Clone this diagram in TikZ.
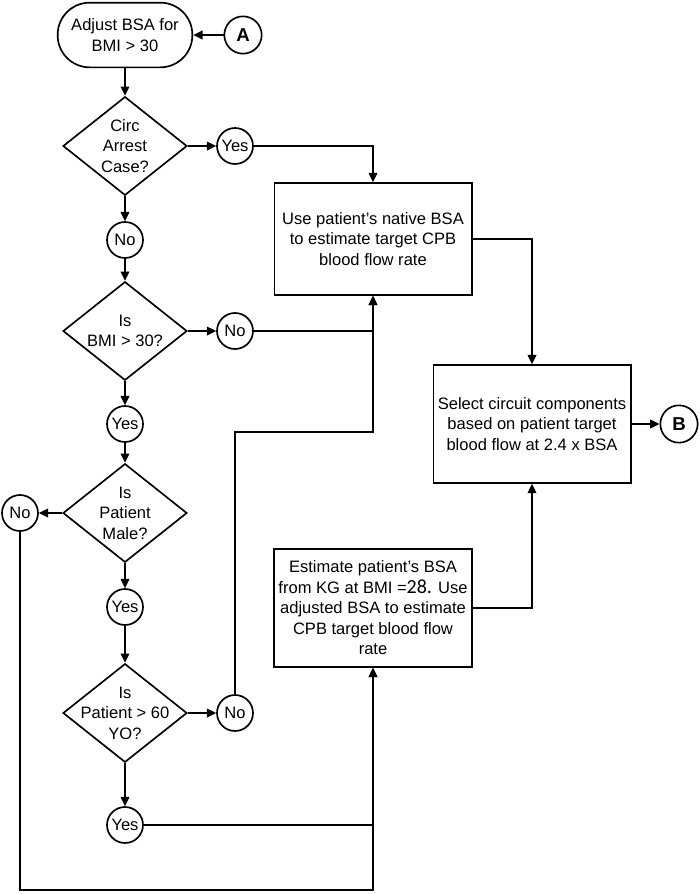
\documentclass[tikz,border=0pt]{standalone}
\usepackage{fontspec}
\setmainfont{Liberation Sans}
\newfontfamily\carlito{Carlito}
\usetikzlibrary{shapes.geometric,arrows.meta}

\tikzset{
  flowline/.style={line width=1.25pt},
  arrow/.style={flowline,-{Triangle[length=7pt,width=6.5pt]}},
  terminal/.style={draw,line width=1.25pt,rectangle,rounded corners=24pt,minimum width=101pt,minimum height=48.5pt,align=center},
  decision/.style={draw,line width=1.25pt,diamond,minimum width=93pt,minimum height=74pt,inner sep=0pt},
  answer/.style={draw,line width=1.25pt,circle,minimum size=27pt,inner sep=0pt},
  connector/.style={draw,line width=1.25pt,circle,minimum size=28pt,inner sep=0pt,font=\fontsize{14}{16}\selectfont\bfseries},
  process/.style={draw,line width=1.25pt,rectangle,minimum width=148pt,align=center},
}

\begin{document}
\begin{tikzpicture}[x=0.75pt,y=-0.75pt,font=\fontsize{12.4}{15.4}\selectfont]
\useasboundingbox (0,0) rectangle (700,894);
%\draw[help lines,step=50] (0,0) grid (700,894);
\node[terminal] (start) at (125,35) {Adjust BSA for\\BMI > 30};
\node[connector] (A) at (243,35) {A};
\node[decision,label={[align=center]center:Circ\\Arrest\\Case?}] (circ) at (125,146) {};
\node[answer] (yes1) at (235,146) {Yes};
\node[answer] (no1) at (125,240) {No};
\node[decision,label={[align=center]center:Is\\BMI > 30?}] (bmi) at (125,331) {};
\node[answer] (no2) at (235,331) {No};
\node[answer] (yes2) at (125,424) {Yes};
\node[decision,label={[align=center]center:Is\\Patient\\Male?}] (male) at (125,513) {};
\node[answer] (no3) at (20,513) {No};
\node[answer] (yes3) at (125,607) {Yes};
\node[decision,label={[align=center]center:Is\\Patient > 60\\YO?}] (age) at (125,713) {};
\node[answer] (no4) at (235,713) {No};
\node[answer] (yes4) at (125,825) {Yes};
% boites
\node[process,minimum height=84pt] (native) at (373,239) {Use patient's native BSA\\to estimate target CPB\\blood flow rate};
\node[process,minimum height=88.5pt] (adjusted) at (373,608) {Estimate patient's BSA\\from KG at BMI ={\carlito\fontsize{15}{15}\selectfont 28.} Use\\adjusted BSA to estimate\\CPB target blood flow\\rate};
\node[process,minimum height=88.5pt] (select) at (532,424) {Select circuit components\\based on patient target\\blood flow at 2.4 x BSA};
\node[connector] (B) at (679,424) {B};
\coordinate (turn) at (235,432);
\coordinate (bottom) at (20,890);

\draw[arrow] (A) -- (start);
\draw[arrow] (start) -- (circ);
\draw[arrow] (circ) -- (yes1);
\draw[arrow] (yes1) -| (native.north);
\draw[arrow] (circ) -- (no1);
\draw[arrow] (no1) -- (bmi);
\draw[arrow] (bmi) -- (no2);
\draw[arrow] (no2) -| (native.south);
\draw[arrow] (bmi) -- (yes2);
\draw[arrow] (yes2) -- (male);
\draw[arrow] (male) -- (no3);
\draw[arrow] (male) -- (yes3);
\draw[arrow] (yes3) -- (age);
\draw[arrow] (age) -- (no4);
\draw[arrow] (no4) -- (turn) -| (native.south);
\draw[arrow] (age) -- (yes4);
\draw[arrow] (yes4) -| (adjusted.south);
\draw[arrow] (no3) -- (bottom) -| (adjusted.south);
\draw[arrow] (native.east) -| (select.north);
\draw[arrow] (adjusted.east) -| (select.south);
\draw[arrow] (select) -- (B);
\end{tikzpicture}
\end{document}
